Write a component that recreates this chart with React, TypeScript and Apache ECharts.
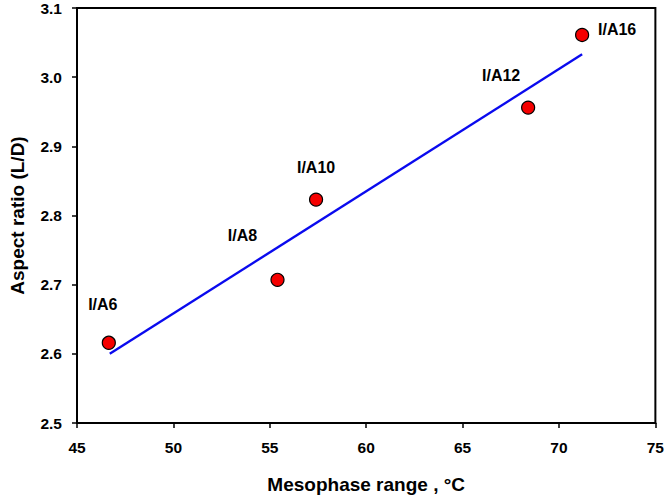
import React, { useEffect, useRef } from "react";
import * as echarts from "echarts";

const sampleNames = ["I/A6", "I/A8", "I/A10", "I/A12", "I/A16"];
const mesophaseRange = [46.65, 55.4, 57.4, 68.4, 71.2];
const aspectRatio = [2.616, 2.707, 2.823, 2.956, 3.061];
const fitX = [46.7, 71.2];
const fitY = [2.6, 3.033];
const labelOffsets = [
  [-6, -38],
  [-35, -44],
  [0, -32],
  [-27, -32],
  [35, -5],
];

export default function App() {
  const ref = useRef<HTMLDivElement>(null);
  useEffect(() => {
    if (!ref.current) return;
    const chart = echarts.init(ref.current, undefined, { renderer: "svg" });
    const font = "Arial, Liberation Sans, sans-serif";
    chart.setOption({
      animation: false,
      backgroundColor: "#ffffff",
      grid: {
        left: 72.5,
        right: 11,
        top: 8,
        bottom: 75,
        show: true,
        borderColor: "#000",
        borderWidth: 2,
        backgroundColor: "transparent",
      },
      xAxis: {
        type: "value",
        min: 45,
        max: 75,
        interval: 5,
        name: "Mesophase range , °C",
        nameLocation: "middle",
        nameGap: 52,
        nameTextStyle: { fontFamily: font, fontWeight: "bold", fontSize: 19, color: "#000" },
        axisLine: { show: true, lineStyle: { color: "#000", width: 2 } },
        axisTick: { show: true, inside: false, length: 5, lineStyle: { color: "#000", width: 1.5 } },
        axisLabel: { margin: 16, fontFamily: font, fontWeight: "bold", fontSize: 15.5, color: "#000" },
        splitLine: { show: false },
      },
      yAxis: {
        type: "value",
        min: 2.5,
        max: 3.1,
        interval: 0.1,
        name: "Aspect ratio (L/D)",
        nameLocation: "middle",
        nameGap: 50,
        nameTextStyle: { fontFamily: font, fontWeight: "bold", fontSize: 19, color: "#000" },
        axisLine: { show: true, lineStyle: { color: "#000", width: 2 } },
        axisTick: { show: true, inside: false, length: 5, lineStyle: { color: "#000", width: 1.5 } },
        axisLabel: {
          margin: 15,
          fontFamily: font,
          fontWeight: "bold",
          fontSize: 15.5,
          color: "#000",
          formatter: (v: number) => v.toFixed(1),
        },
        splitLine: { show: false },
      },
      series: [
        {
          type: "line",
          data: fitX.map((x, i) => [x, fitY[i]]),
          symbol: "none",
          lineStyle: { color: "#0a0aee", width: 2.4 },
          z: 2,
        },
        {
          type: "scatter",
          data: mesophaseRange.map((x, i) => ({
            value: [x, aspectRatio[i]],
            name: sampleNames[i],
            label: { offset: labelOffsets[i] },
          })),
          symbol: "circle",
          symbolSize: 13,
          itemStyle: { color: "#f50000", borderColor: "#000", borderWidth: 1.2, opacity: 1 },
          label: {
            show: true,
            position: "inside",
            formatter: (p: any) => p.name,
            fontFamily: font,
            fontWeight: "bold",
            fontSize: 16,
            color: "#000",
            textBorderWidth: 0,
          },
          z: 3,
        },
      ],
    });
    return () => chart.dispose();
  }, []);
  return <div ref={ref} style={{ width: 667, height: 499, position: "absolute", left: 0, top: 0 }} />;
}
